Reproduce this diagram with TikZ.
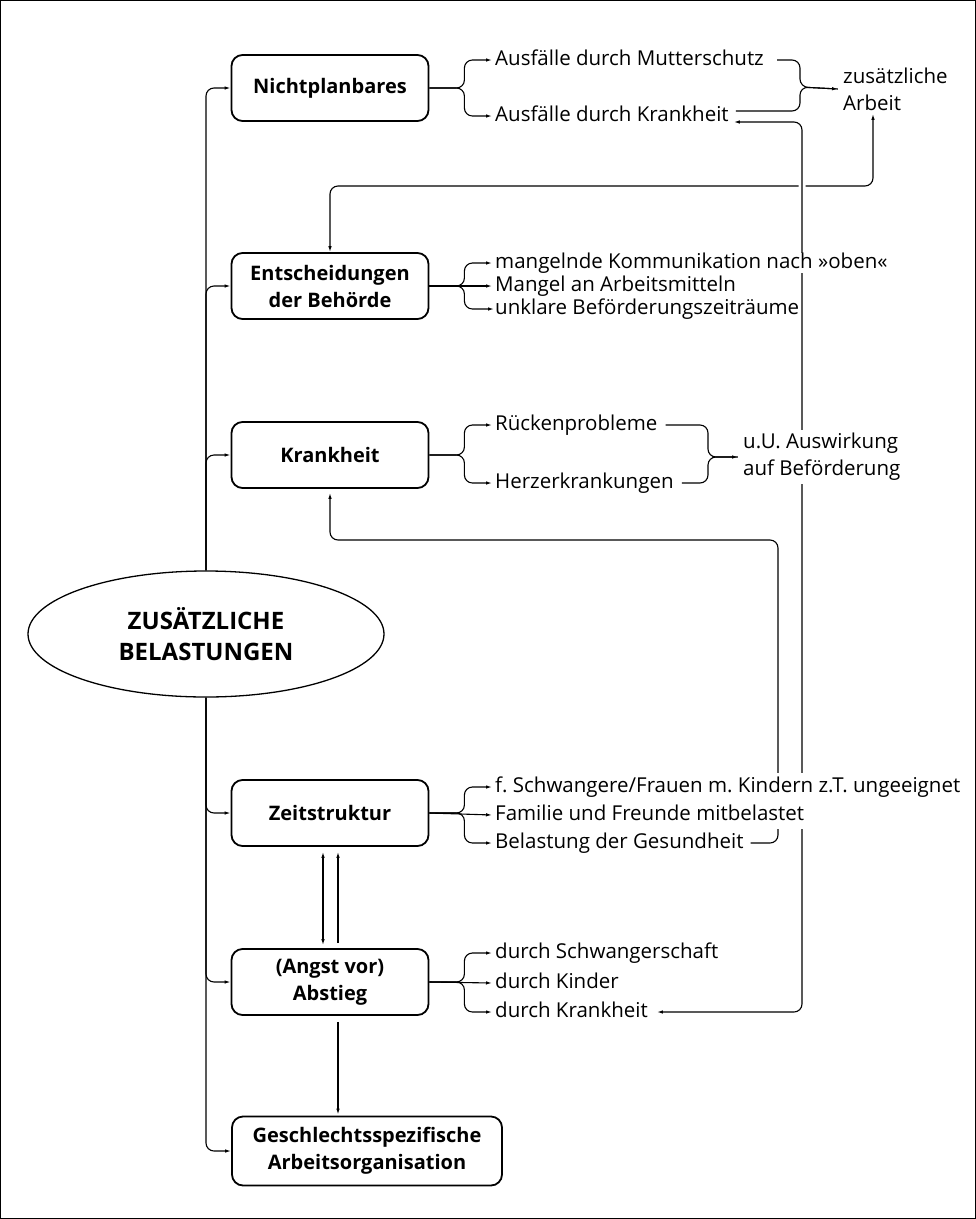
\documentclass[tikz,border=0pt]{standalone}
\usepackage{fontspec}
\setmainfont{Open Sans}
\usetikzlibrary{positioning, arrows.meta, backgrounds, shapes.geometric}
\frenchspacing

\tikzset{
  kasten/.style={draw, line width=1.8pt, rounded corners=11pt, fill=white, align=center,
    font=\fontsize{20}{27}\selectfont\bfseries, minimum width=197pt, minimum height=66pt},
  punkt/.style={anchor=west, fill=white, inner xsep=3pt, inner ysep=4pt,
    font=\fontsize{20.5}{24}\selectfont, text height=15pt, text depth=5pt},
  block/.style={anchor=west, fill=white, inner xsep=5pt, align=left,
    font=\fontsize{20.5}{27}\selectfont},
  linie/.style={line width=1.1pt, rounded corners=8pt},
  spitze/.style={-{Latex[length=6pt,width=3.5pt]}},
  zweispitz/.style={{Latex[length=6pt,width=3.5pt]}-{Latex[length=6pt,width=3.5pt]}},
}

\begin{document}
\begin{tikzpicture}[x=1pt, y=-1pt]
  \useasboundingbox (0,0) rectangle (976,1219);
  \draw[line width=1pt] (0.5,0.5) rectangle (975.5,1218.5);

  % Kaesten
  \node[kasten] (plan) at (330,88) {Nichtplanbares};
  \node[kasten] (entsch) at (330,286) {Entscheidungen\\der Behörde};
  \node[kasten] (krank) at (330,455) {Krankheit};
  \node[kasten] (zeit) at (330,813) {Zeitstruktur};
  \node[kasten] (abstieg) at (330,982) {(Angst vor)\\Abstieg};
  \node[kasten, minimum width=270pt, minimum height=69pt] (geschl) at (367,1151)
    {Geschlechtsspezifische\\Arbeitsorganisation};

  % Mitte
  \node[ellipse, draw, line width=1.3pt, fill=white, minimum width=356pt, minimum height=126pt,
    align=center, font=\fontsize{24}{31}\selectfont\bfseries] (belast) at (206,634)
    {ZUSÄTZLICHE\\BELASTUNGEN};

  % Punkte
  \node[punkt] (mutter) at (492,60) {Ausfälle durch Mutterschutz};
  \node[punkt] (ausfkrank) at (492,116) {Ausfälle durch Krankheit};
  \node[block] (arbeit) at (838,89) {zusätzliche\\Arbeit};

  \node[punkt, inner ysep=0pt] (komm) at (492,263) {mangelnde Kommunikation nach »oben«};
  \node[punkt, inner ysep=0pt] (mittel) at (492,286) {Mangel an Arbeitsmitteln};
  \node[punkt, inner ysep=0pt, inner xsep=1pt, xshift=2pt] (befzeit) at (492,309) {unklare Beförderungszeiträume};

  \node[punkt] (ruecken) at (492,425) {Rückenprobleme};
  \node[punkt] (herz) at (492,483) {Herzerkrankungen};
  \node[block] (auswirk) at (738,457) {u.U. Auswirkung\\auf Beförderung};

  \node[punkt] (schwanger) at (492,787) {f. Schwangere/Frauen m. Kindern z.T. ungeeignet};
  \node[punkt] (familie) at (492,815) {Familie und Freunde mitbelastet};
  \node[punkt] (gesund) at (492,843) {Belastung der Gesundheit};

  \node[punkt] (durchschw) at (492,953) {durch Schwangerschaft};
  \node[punkt] (durchkind) at (492,983) {durch Kinder};
  \node[punkt] (durchkrank) at (492,1012) {durch Krankheit};

  \coordinate (zusJ) at (800,87);
  \coordinate (auswJ) at (708,457);
  \coordinate (querE) at (600,186);
  \coordinate (querB) at (778,540);
  \coordinate (schieneA) at (802,0);

  \begin{scope}[on background layer]
    % Stamm
    \foreach \k in {plan, entsch, krank}
      \draw[linie, spitze] (belast.north) |- (\k.west);
    \foreach \k in {zeit, abstieg, geschl}
      \draw[linie, spitze] (belast.south) |- (\k.west);

    % Verzweigungen
    \draw[linie, spitze] (plan.east) -- ++(35,0) |- (mutter.west);
    \draw[linie, spitze] (plan.east) -- ++(35,0) |- (ausfkrank.west);
    \draw[linie, spitze] (entsch.east) -- ++(35,0) |- (komm.west);
    \draw[line width=1.1pt, spitze] (entsch.east) -- (mittel.west);
    \draw[linie, spitze] (entsch.east) -- ++(35,0) |- (befzeit.west);
    \draw[linie, spitze] (krank.east) -- ++(35,0) |- (ruecken.west);
    \draw[linie, spitze] (krank.east) -- ++(35,0) |- (herz.west);
    \draw[linie, spitze] (zeit.east) -- ++(35,0) |- (schwanger.west);
    \draw[line width=1.1pt, spitze] (zeit.east) -- (familie.west);
    \draw[linie, spitze] (zeit.east) -- ++(35,0) |- (gesund.west);
    \draw[linie, spitze] (abstieg.east) -- ++(35,0) |- (durchschw.west);
    \draw[line width=1.1pt, spitze] (abstieg.east) -- (durchkind.west);
    \draw[linie, spitze] (abstieg.east) -- ++(35,0) |- (durchkrank.west);

    % Zusammenfuehrungen
    \draw[linie, spitze] ([xshift=10pt]mutter.east) -| (zusJ) -- (arbeit.west);
    \draw[linie] ([xshift=4pt,yshift=5pt]ausfkrank.east) -| (zusJ) -- (arbeit.west);
    \draw[linie, spitze] ([xshift=5pt]ruecken.east) -| (auswJ) -- (auswirk.west);
    \draw[linie] ([xshift=5pt]herz.east) -| (auswJ) -- (auswirk.west);

    % Rueckwirkungen
    \draw[linie, zweispitz] (entsch.north) |- (querE) -| ([xshift=35pt]arbeit.south west);
    \draw[linie, zweispitz, preaction={draw=white, line width=7pt, arrows=-}]
      ([xshift=2pt,yshift=-6pt]ausfkrank.east)
      -- ([yshift=-6pt]ausfkrank.east -| schieneA)
      -- (durchkrank.east -| schieneA) -- ([xshift=6pt]durchkrank.east);
    \draw[linie, spitze, shorten >=4pt] ([xshift=4pt]gesund.east) -| (querB) -| (krank.south);

    % Zeitstruktur und Abstieg
    \draw[line width=1.1pt, zweispitz, shorten <=5pt, shorten >=3pt]
      ([xshift=-7pt]zeit.south) -- ([xshift=-7pt]abstieg.north);
    \draw[line width=1.1pt, spitze, shorten <=5pt, shorten >=5pt]
      ([xshift=8pt]abstieg.north) -- ([xshift=8pt]zeit.south);
    \draw[line width=1.1pt, spitze, shorten <=6pt, shorten >=1pt]
      ([xshift=8pt]abstieg.south) -- ([xshift=8pt]abstieg.south |- geschl.north);
  \end{scope}
\end{tikzpicture}
\end{document}
